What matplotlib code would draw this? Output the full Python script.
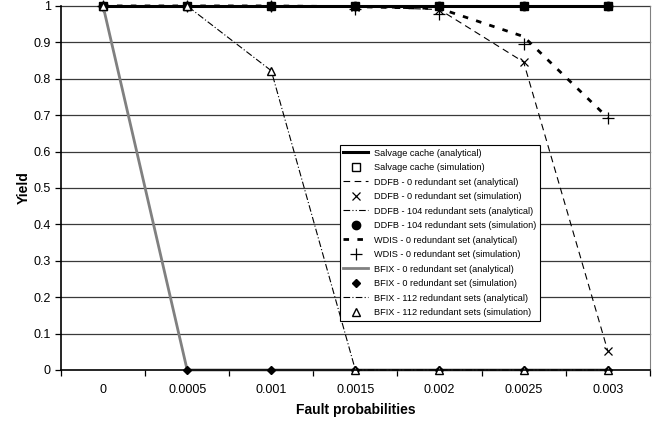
import matplotlib.pyplot as plt
import numpy as np

plt.rcParams['font.family'] = ['Liberation Sans', 'DejaVu Sans']

# categories (fault probabilities) as shown on the x axis
fault_probs = ['0', '0.0005', '0.001', '0.0015', '0.002', '0.0025', '0.003']

# yield values
salvage_ana = [1, 1, 1, 1, 1, 1, 1]
salvage_sim = [1, 1, 1, 1, 1, 1, 1]
ddfb0_ana = [1, 1, 1, 0.998, 0.99, 0.846, 0.053]
ddfb0_sim = [1, 1, 1, 0.996, 0.99, 0.846, 0.053]
ddfb104_ana = [1, 1, 1, 1, 1, 1, 1]
ddfb104_sim = [1, 1, 1, 1, 1, 1, 1]
wdis0_ana = [1, 1, 1, 0.998, 0.993, 0.916, 0.693]
wdis0_sim = [1, 1, 1, 0.992, 0.978, 0.896, 0.693]
bfix0_ana = [1, 0, 0, 0, 0, 0, 0]
bfix0_sim = [1, 0, 0, 0, 0, 0, 0]
bfix112_ana = [1, 1, 0.822, 0, 0, 0, 0]
bfix112_sim = [1, 1, 0.822, 0, 0, 0, 0]

x = np.arange(len(fault_probs))

fig = plt.figure(figsize=(6.61, 4.24), dpi=100)
ax = fig.add_axes([0.0923, 0.1274, 0.8907, 0.8586])

# horizontal grid
for v in np.arange(0.1, 1.01, 0.1):
    ax.axhline(v, color='#3a3a3a', lw=0.9, zorder=0)

ax.plot(x, salvage_ana, color='black', lw=2.2, label='Salvage cache (analytical)')
ax.plot(x, salvage_sim, ls='none', marker='s', ms=6, mfc='white', mec='black', mew=1.0,
        label='Salvage cache (simulation)')
ax.plot(x, ddfb0_ana, color='black', lw=0.8, dashes=(6, 4), label='DDFB - 0 redundant set (analytical)')
ax.plot(x, ddfb0_sim, ls='none', marker='x', ms=6, color='black', mew=0.9,
        label='DDFB - 0 redundant set (simulation)')
ax.plot(x, ddfb104_ana, color='black', lw=0.8, dashes=(6, 2, 1, 2, 1, 2),
        label='DDFB - 104 redundant sets (analytical)')
ax.plot(x, ddfb104_sim, ls='none', marker='o', ms=6, color='black',
        label='DDFB - 104 redundant sets (simulation)')
ax.plot(x, wdis0_ana, color='black', lw=2.0, dashes=(2, 3), label='WDIS - 0 redundant set (analytical)')
ax.plot(x, wdis0_sim, ls='none', marker='+', ms=8, color='black', mew=0.9,
        label='WDIS - 0 redundant set (simulation)')
ax.plot(x, bfix0_ana, color='#808080', lw=2.0, label='BFIX - 0 redundant set (analytical)')
ax.plot(x, bfix0_sim, ls='none', marker='D', ms=4.5, color='black',
        label='BFIX - 0 redundant set (simulation)')
ax.plot(x, bfix112_ana, color='black', lw=0.8, dashes=(6, 2, 1, 2),
        label='BFIX - 112 redundant sets (analytical)')
ax.plot(x, bfix112_sim, ls='none', marker='^', ms=6, mfc='white', mec='black', mew=1.0,
        label='BFIX - 112 redundant sets (simulation)')

for line in ax.get_lines():
    line.set_clip_on(False)

ax.set_xlim(-0.5, len(fault_probs) - 0.5)
ax.set_ylim(0, 1)
ax.set_xticks(np.arange(-0.5, len(fault_probs)), labels=[])
ax.set_xticks(x, labels=fault_probs, minor=True)
ax.tick_params(axis='x', which='major', direction='out', length=4, width=0.9)
ax.tick_params(axis='x', which='minor', length=0, pad=10, labelsize=9)
ax.set_yticks(np.arange(0, 1.01, 0.1), labels=['0', '0.1', '0.2', '0.3', '0.4', '0.5', '0.6',
                                                '0.7', '0.8', '0.9', '1'])
ax.tick_params(axis='y', direction='out', length=4, width=0.9, labelsize=9)

for s in ['left', 'bottom']:
    ax.spines[s].set_linewidth(1.2)
    ax.spines[s].set_color('black')
ax.spines['right'].set_color('#808080')
ax.spines['top'].set_visible(False)

ax.set_xlabel('Fault probabilities', fontsize=10, fontweight='bold', labelpad=5)
ax.set_ylabel('Yield', fontsize=10, fontweight='bold', labelpad=2)

leg = fig.legend(loc='upper left', bbox_to_anchor=(0.514, 0.658), fontsize=6.6, frameon=True,
                 fancybox=False, edgecolor='black', framealpha=1, handlelength=2.7,
                 labelspacing=0.6, borderpad=0.4, handletextpad=0.6, borderaxespad=0)
leg.get_frame().set_linewidth(0.8)

fig.savefig('out.png', dpi=100)
